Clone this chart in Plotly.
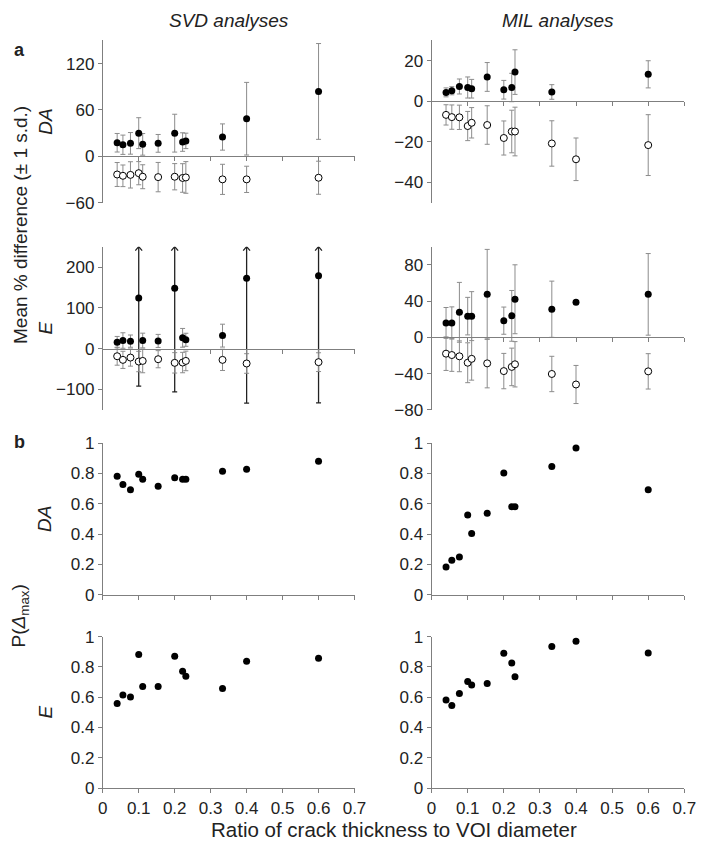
import plotly.graph_objects as go

# page body has an 8px margin; the figure is sized to fit inside it
PAGE_W, PAGE_H, BODY_MARGIN = 709, 854, 8
W, H = PAGE_W - BODY_MARGIN, PAGE_H - 2 * BODY_MARGIN

# ratio of crack thickness to VOI diameter
RATIO = [0.04, 0.056, 0.077, 0.1, 0.111, 0.154, 0.2, 0.222, 0.231, 0.333, 0.4, 0.6]

# panel a: mean % difference (over = filled, under = open) and 1 s.d.
SVD_DA_OVER = [17.6, 15.0, 16.8, 30.0, 15.5, 16.8, 30.0, 18.5, 20.0, 25.0, 48.7, 84.0]
SVD_DA_OVER_SD = [12, 12.5, 14, 20, 14, 11.5, 24.5, 12, 10, 17, 47, 62]
SVD_DA_UNDER = [-23.5, -25.2, -24.0, -21.8, -26.4, -26.9, -26.4, -28.0, -27.3, -29.8, -29.8, -27.7]
SVD_DA_UNDER_SD = [15.5, 14, 17, 15, 15.5, 19, 17, 18.5, 20.5, 19.5, 17, 21.4]

MIL_DA_OVER = [4.4, 5.2, 7.3, 6.8, 6.2, 12.0, 5.7, 6.8, 14.4, 4.6, None, 13.3]
MIL_DA_OVER_SD = [2.2, 2.0, 3.7, 5.2, 4.6, 7.1, 4.6, 7.0, 11.0, 3.6, None, 6.7]
MIL_DA_UNDER = [-6.7, -7.8, -7.9, -12.2, -10.6, -11.7, -18.1, -14.9, -14.9, -20.8, -28.6, -21.6]
MIL_DA_UNDER_SD = [5, 6, 6, 7.2, 7.5, 9.5, 8.4, 10.5, 12, 11.2, 10.5, 15]

SVD_E_OVER = [16, 20, 18.5, 124, 20, 19, 148, 26.6, 21.8, 32, 172.6, 179]
SVD_E_OVER_SD = [14, 19, 15, 216, 18, 16, 254, 23, 16, 28, 306, 312]
SVD_E_UNDER = [-18.5, -27.4, -21.8, -31.5, -30, -25.8, -34.7, -34, -30, -27.4, -36.3, -33]
SVD_E_UNDER_SD = [22, 21, 21, 25, 29, 21, 25, 25, 24, 26, 24, 23]

MIL_E_OVER = [15.9, 15.9, 27.6, 23.4, 23.4, 47.4, 18.4, 23.7, 42.0, 31.0, 38.6, 47.4]
MIL_E_OVER_SD = [17, 17.7, 33, 20.7, 27, 49.6, 15, 28, 38, 31, 0, 45]
MIL_E_UNDER = [-18, -19.5, -20.9, -28, -23.7, -28.7, -37.2, -32.6, -29.7, -40.4, -52, -37.5]
MIL_E_UNDER_SD = [18.5, 18, 17, 22, 23.5, 27, 19.5, 20.7, 25, 19.5, 21, 19.5]

# panel b: P(delta max)
SVD_DA_P = [0.782, 0.726, 0.692, 0.795, 0.761, 0.716, 0.772, 0.761, 0.761, 0.815, 0.828, 0.881]
MIL_DA_P = [0.182, 0.227, 0.248, 0.525, 0.403, 0.537, 0.803, 0.580, 0.580, 0.846, 0.968, 0.692]
SVD_E_P = [0.559, 0.615, 0.602, 0.882, 0.671, 0.671, 0.871, 0.772, 0.738, 0.658, 0.837, 0.858]
MIL_E_P = [0.581, 0.546, 0.624, 0.703, 0.680, 0.690, 0.890, 0.826, 0.735, 0.935, 0.970, 0.892]

# y ranges / ticks per panel (row, col)
Y_RANGES = {
    (0, 0): ([-60, 150], [-60, 0, 60, 120]),
    (0, 1): ([-50, 30], [-40, -20, 0, 20]),
    (1, 0): ([-150, 250], [-100, 0, 100, 200]),
    (1, 1): ([-80, 100], [-80, -40, 0, 40, 80]),
    (2, 0): ([0, 1], [0, 0.2, 0.4, 0.6, 0.8, 1]),
    (2, 1): ([0, 1], [0, 0.2, 0.4, 0.6, 0.8, 1]),
    (3, 0): ([0, 1], [0, 0.2, 0.4, 0.6, 0.8, 1]),
    (3, 1): ([0, 1], [0, 0.2, 0.4, 0.6, 0.8, 1]),
}

FONT = "Liberation Sans, Arial, sans-serif"
AXIS_COLOR = "#7f7f7f"
ERR_COLOR = "#8c8c8c"
ARROW_COLOR = "#222222"

# panel boxes in page pixels: (left, right) columns, (top, bottom) rows
COLS_PX = [(100, 358), (437, 696)]
ROWS_PX = [(32, 198), (243, 410), (444, 599), (642, 797)]


def px_x(p):
    return (p - BODY_MARGIN) / W


def px_y(p):
    return 1 - (p - BODY_MARGIN) / H


fig = go.Figure()


def axis_ids(r, c):
    k = r * 2 + c + 1
    return k, ("x" if k == 1 else f"x{k}"), ("y" if k == 1 else f"y{k}")


def add_diff(r, c, over, over_sd, under, under_sd):
    k, xa, ya = axis_ids(r, c)
    (ymin, ymax), _ = Y_RANGES[(r, c)]
    normal = [i for i in range(len(RATIO)) if over[i] is None or over[i] + (over_sd[i] or 0) <= ymax]
    offscale = [i for i in range(len(RATIO)) if i not in normal]

    fig.add_trace(go.Scatter(
        x=[RATIO[i] for i in normal], y=[over[i] for i in normal],
        xaxis=xa, yaxis=ya, mode="markers",
        marker=dict(size=7, color="black"),
        error_y=dict(type="data", array=[over_sd[i] for i in normal],
                     color=ERR_COLOR, thickness=1, width=2.5),
        showlegend=False, hoverinfo="x+y",
    ))
    if offscale:
        # bars that run past the top of the axis end in an open arrowhead
        dx = 0.0095
        dy = (ymax - ymin) * 0.024
        ax_x, ax_y = [], []
        for i in offscale:
            ax_x += [RATIO[i], RATIO[i], None, RATIO[i] - dx, RATIO[i], RATIO[i] + dx, None]
            ax_y += [over[i], ymax, None, ymax - dy, ymax, ymax - dy, None]
        fig.add_trace(go.Scatter(
            x=ax_x, y=ax_y, xaxis=xa, yaxis=ya, mode="lines",
            line=dict(color=ARROW_COLOR, width=1.3),
            showlegend=False, hoverinfo="skip",
        ))
        fig.add_trace(go.Scatter(
            x=[RATIO[i] for i in offscale], y=[over[i] for i in offscale],
            xaxis=xa, yaxis=ya, mode="markers",
            marker=dict(size=7, color="black"),
            error_y=dict(type="data", symmetric=False,
                         array=[0] * len(offscale),
                         arrayminus=[over_sd[i] for i in offscale],
                         color=ARROW_COLOR, thickness=1.3, width=2.5),
            showlegend=False, hoverinfo="x+y",
        ))
    fig.add_trace(go.Scatter(
        x=RATIO, y=under, xaxis=xa, yaxis=ya, mode="markers",
        marker=dict(size=7, color="white", line=dict(color="black", width=1)),
        error_y=dict(type="data", array=under_sd, color=ERR_COLOR, thickness=1, width=2.5),
        showlegend=False, hoverinfo="x+y",
    ))


def add_prob(r, c, vals):
    k, xa, ya = axis_ids(r, c)
    fig.add_trace(go.Scatter(
        x=RATIO, y=vals, xaxis=xa, yaxis=ya, mode="markers",
        marker=dict(size=7, color="black"),
        showlegend=False, hoverinfo="x+y",
    ))


add_diff(0, 0, SVD_DA_OVER, SVD_DA_OVER_SD, SVD_DA_UNDER, SVD_DA_UNDER_SD)
add_diff(0, 1, MIL_DA_OVER, MIL_DA_OVER_SD, MIL_DA_UNDER, MIL_DA_UNDER_SD)
add_diff(1, 0, SVD_E_OVER, SVD_E_OVER_SD, SVD_E_UNDER, SVD_E_UNDER_SD)
add_diff(1, 1, MIL_E_OVER, MIL_E_OVER_SD, MIL_E_UNDER, MIL_E_UNDER_SD)
add_prob(2, 0, SVD_DA_P)
add_prob(2, 1, MIL_DA_P)
add_prob(3, 0, SVD_E_P)
add_prob(3, 1, MIL_E_P)

layout = {}
for (r, c), (yr, yt) in Y_RANGES.items():
    k, xa, ya = axis_ids(r, c)
    xdom = [px_x(COLS_PX[c][0]), px_x(COLS_PX[c][1])]
    ydom = [px_y(ROWS_PX[r][1]), px_y(ROWS_PX[r][0])]
    xname = "xaxis" if k == 1 else f"xaxis{k}"
    yname = "yaxis" if k == 1 else f"yaxis{k}"
    xax = dict(
        domain=xdom, range=[0, 0.7], tick0=0, dtick=0.1,
        showline=True, linecolor=AXIS_COLOR, linewidth=1,
        ticks="outside", ticklen=4, tickcolor=AXIS_COLOR,
        showgrid=False, zeroline=False, showticklabels=(r == 3),
        tickfont=dict(family=FONT, size=17, color="#222"),
    )
    if r < 2:
        # axis runs through y = 0
        frac = (0 - yr[0]) / (yr[1] - yr[0])
        xax.update(anchor="free", position=ydom[0] + frac * (ydom[1] - ydom[0]))
    else:
        xax.update(anchor=ya)
    layout[xname] = xax
    layout[yname] = dict(
        domain=ydom, range=yr, tickvals=yt, anchor=xa,
        showline=True, linecolor=AXIS_COLOR, linewidth=1,
        ticks="outside", ticklen=4, tickcolor=AXIS_COLOR,
        showgrid=False, zeroline=False,
        tickfont=dict(family=FONT, size=17, color="#222"),
    )

fig.update_layout(
    width=W, height=H,
    margin=dict(l=0, r=0, t=0, b=0),
    paper_bgcolor="white", plot_bgcolor="white",
    font=dict(family=FONT, color="#222"),
    **layout,
)

# column titles
for c, label in enumerate(["SVD analyses", "MIL analyses"]):
    fig.add_annotation(
        x=px_x((COLS_PX[c][0] + COLS_PX[c][1]) / 2), y=px_y(12),
        xref="paper", yref="paper", text=f"<i>{label}</i>", showarrow=False,
        font=dict(family=FONT, size=19), xanchor="center", yanchor="middle",
    )

# row labels
for r, label in enumerate(["DA", "E", "DA", "E"]):
    fig.add_annotation(
        x=px_x(41), y=px_y((ROWS_PX[r][0] + ROWS_PX[r][1]) / 2),
        xref="paper", yref="paper", text=f"<i>{label}</i>", showarrow=False,
        textangle=-90, font=dict(family=FONT, size=19),
        xanchor="center", yanchor="middle",
    )

fig.add_annotation(
    x=px_x(15), y=px_y((ROWS_PX[0][0] + ROWS_PX[1][1]) / 2),
    xref="paper", yref="paper", text="Mean % difference (± 1 s.d.)",
    showarrow=False, textangle=-90, font=dict(family=FONT, size=19),
    xanchor="center", yanchor="middle",
)
fig.add_annotation(
    x=px_x(15), y=px_y((ROWS_PX[2][0] + ROWS_PX[3][1]) / 2),
    xref="paper", yref="paper", text="P(<i>Δ</i><sub>max</sub>)",
    showarrow=False, textangle=-90, font=dict(family=FONT, size=19),
    xanchor="center", yanchor="middle",
)
fig.add_annotation(
    x=px_x((COLS_PX[0][0] + COLS_PX[1][1]) / 2), y=px_y(839),
    xref="paper", yref="paper", text="Ratio of crack thickness to VOI diameter",
    showarrow=False, font=dict(family=FONT, size=20.5),
    xanchor="center", yanchor="middle",
)
for label, ypx in [("a", 42), ("b", 443)]:
    fig.add_annotation(
        x=px_x(15), y=px_y(ypx), xref="paper", yref="paper",
        text=f"<b>{label}</b>", showarrow=False,
        font=dict(family=FONT, size=18), xanchor="center", yanchor="middle",
    )

fig.write_html("out.html")
